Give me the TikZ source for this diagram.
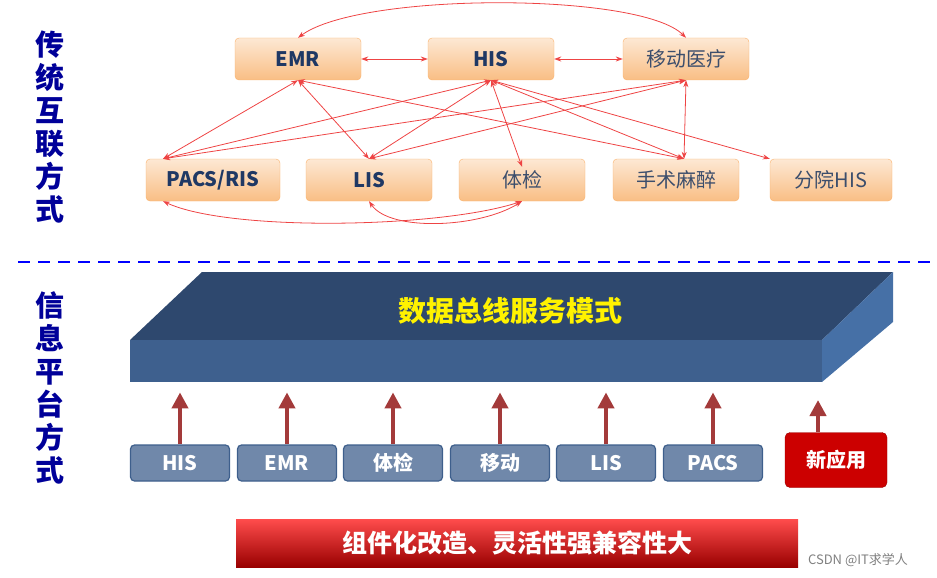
\documentclass[tikz,border=0pt]{standalone}
\usepackage{fontspec}
\setmainfont{Noto Sans CJK SC}
\usetikzlibrary{arrows.meta,shadings}
\definecolor{tblue}{HTML}{1F3864}
\definecolor{ored}{HTML}{EE4444}
\definecolor{obfill}{HTML}{F9BE84}
\definecolor{gbfill}{HTML}{7088AA}
\definecolor{gbdraw}{HTML}{3E5F8C}
\definecolor{upred}{HTML}{A33A3A}
\begin{document}
\begin{tikzpicture}[x=1pt,y=-1pt,
 ob/.style={draw=obfill!80!orange,rounded corners=4pt,top color=obfill!35!white,bottom color=obfill,minimum width=126pt,minimum height=42pt,font=\fontsize{20}{22}\selectfont,text=tblue!70!gray},
 obb/.style={ob,font=\fontsize{20}{22}\selectfont\bfseries,text=tblue},
 con/.style={draw=ored,line width=0.8pt,{Stealth[length=7pt,width=5pt]}-{Stealth[length=7pt,width=5pt]}},
 gb/.style={draw=gbdraw,line width=1.2pt,rounded corners=4pt,fill=gbfill,minimum width=99pt,minimum height=36pt,text=white,font=\fontsize{20}{22}\selectfont\bfseries},
 up/.style={draw=upred,line width=4pt,-{Triangle[length=16pt,width=16pt]}},
 vt/.style={text=blue!60!black,font=\fontsize{29}{33}\selectfont\bfseries,align=center}]
\useasboundingbox (0,0) rectangle (937,578);
% left labels
\node[vt] (t1) at (50,127) {传\\统\\互\\联\\方\\式};
\node[vt] (t2) at (50,388) {信\\息\\平\\台\\方\\式};
\draw[blue,line width=2.5pt,dash pattern=on 12pt off 8pt] (18,262) -- (937,262);
% orange nodes
\node[obb] (EMR) at (298,59) {EMR};
\node[obb] (HIS) at (491,59) {HIS};
\node[ob] (YD) at (686,59) {移动医疗};
\node[obb,minimum width=134pt] (PACS) at (213,180) {PACS/RIS};
\node[obb] (LIS) at (369,180) {LIS};
\node[ob] (TJ) at (522,180) {体检};
\node[ob] (SS) at (676,180) {手术麻醉};
\node[ob,minimum width=122pt] (FY) at (831,180) {分院HIS};
% connectors
\draw[con] (EMR.north) .. controls (360,-8) and (640,-8) .. (YD.north);
\draw[con] (EMR) -- (HIS);
\draw[con] (HIS) -- (YD);
\draw[con] (EMR.south) -- ([xshift=-50pt]PACS.north);
\draw[con] (EMR.south) -- (LIS.north);
\draw[con] (EMR.south) -- ([xshift=8pt]SS.north);
\draw[con] (HIS.south) -- ([xshift=-50pt]PACS.north);
\draw[con] (HIS.south) -- (LIS.north);
\draw[con] (HIS.south) -- ([yshift=-8pt]TJ.north);
\draw[con] (HIS.south) -- ([xshift=8pt]SS.north);
\draw[con] (HIS.south) -- (FY.north west);
\draw[con] (YD.south) -- ([xshift=-50pt]PACS.north);
\draw[con] (YD.south) -- (LIS.north);
\draw[con] (YD.south) -- ([xshift=8pt]SS.north);
\draw[con] ([xshift=-50pt]PACS.south) .. controls (230,232) and (440,228) .. (TJ.south);
\draw[con] (LIS.south) .. controls (390,232) and (480,228) .. (TJ.south);
% bus
\fill[fill={rgb,255:red,46;green,72;blue,110}] (130,340) -- (202,272) -- (893,272) -- (822,340) -- cycle;
\fill[fill={rgb,255:red,62;green,96;blue,142}] (130,340) rectangle (822,382);
\fill[fill={rgb,255:red,70;green,112;blue,166}] (822,340) -- (893,272) -- (893,322) -- (822,382) -- cycle;
\node[text=yellow,font=\fontsize{28}{30}\selectfont\bfseries] (bus) at (510,311) {数据总线服务模式};
% bottom boxes
\node[gb] (b1) at (180,463) {HIS};
\node[gb] (b2) at (287,463) {EMR};
\node[gb] (b3) at (393,463) {体检};
\node[gb] (b4) at (500,463) {移动};
\node[gb] (b5) at (606,463) {LIS};
\node[gb] (b6) at (713,463) {PACS};
\node[draw=red!60!black,fill=red!80!black,rounded corners=5pt,minimum width=102pt,minimum height=55pt,text=white,font=\fontsize{20}{22}\selectfont\bfseries] (b7) at (836,460) {新应用};
\foreach \b in {b1,b2,b3,b4,b5,b6}{\draw[up] (\b.north) -- ++(0,-52);}
\draw[up] (b7.north -| 818,0) -- (818,400);
% banner
\node[minimum width=562pt,minimum height=48pt,top color=red!70!white,bottom color=red!60!black,text=white,font=\fontsize{25}{28}\selectfont\bfseries] (ban) at (517,543) {组件化改造、灵活性强兼容性大};
\node[text=gray,font=\fontsize{13}{15}\selectfont] (wm) at (858,560) {CSDN @IT求学人};
\end{tikzpicture}
\end{document}
